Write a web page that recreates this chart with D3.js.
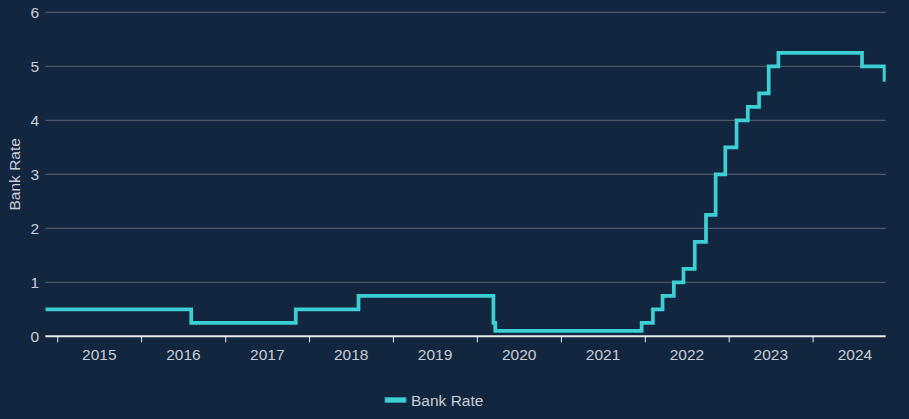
<!DOCTYPE html>
<html>
<head>
<meta charset="utf-8">
<script src="https://cdn.jsdelivr.net/npm/d3@7"></script>
<style>
html,body{margin:0;padding:0;background:#13263f;}
svg{display:block;font-family:"Liberation Sans",Arial,sans-serif;}
</style>
</head>
<body>
<svg id="chart" width="909" height="419"></svg>
<script>
// Bank Rate change dates and values
const changeDates = ["2014-11-08","2016-08-04","2017-11-02","2018-08-02","2020-03-11","2020-03-19","2021-12-16","2022-02-03","2022-03-17","2022-05-05","2022-06-16","2022-08-04","2022-09-22","2022-11-03","2022-12-15","2023-02-02","2023-03-23","2023-05-11","2023-06-22","2023-08-03","2024-08-01","2024-11-07","2024-11-12"];
const rates = [0.5,0.25,0.5,0.75,0.25,0.1,0.25,0.5,0.75,1.0,1.25,1.75,2.25,3.0,3.5,4.0,4.25,4.5,5.0,5.25,5.0,4.75,4.75];
const yTicks = [0,1,2,3,4,5,6];
const yearLabels = [2015,2016,2017,2018,2019,2020,2021,2022,2023,2024];
const seriesName = "Bank Rate";

const parse = d3.timeParse("%Y-%m-%d");
const data = changeDates.map((d,i)=>({date:parse(d), value:rates[i]}));

const svg = d3.select("#chart");
const W = 909, H = 419;
const m = {left:45.3, right:23.3, top:12.3, bottom:82.7};
const x = d3.scaleTime().domain([data[0].date, data[data.length-1].date]).range([m.left, W - m.right]);
const y = d3.scaleLinear().domain([0,6]).range([H - m.bottom, m.top]);

const textCol = "#c9ced6";

// gridlines
svg.append("g").selectAll("line").data(yTicks.filter(t=>t>0)).join("line")
  .attr("x1", m.left).attr("x2", W - m.right)
  .attr("y1", d=>y(d)).attr("y2", d=>y(d))
  .attr("stroke", "#5d6879").attr("stroke-width", 1);

// y tick labels
svg.append("g").selectAll("text").data(yTicks).join("text")
  .attr("x", 39).attr("y", d=>y(d)).attr("dy","0.36em")
  .attr("text-anchor","end").attr("fill", textCol).attr("font-size","15.5px")
  .text(d=>d);

// y title
svg.append("text")
  .attr("transform", `translate(20,${y(3)}) rotate(-90)`)
  .attr("text-anchor","middle").attr("fill", textCol).attr("font-size","15.5px")
  .text(seriesName);

// line
const clipId = "plotclip";
svg.append("clipPath").attr("id", clipId).append("rect")
  .attr("x", m.left).attr("y", 0).attr("width", W - m.right - m.left).attr("height", H);
const line = d3.line().x(d=>x(d.date)).y(d=>y(d.value)).curve(d3.curveStepAfter);
svg.append("path").datum(data)
  .attr("clip-path", `url(#${clipId})`)
  .attr("d", line).attr("fill","none")
  .attr("stroke", "#3ccfd3").attr("stroke-width", 3.7)
  .attr("stroke-linejoin","miter");

// x axis
const yearStarts = yearLabels.map(yr=>new Date(yr,0,1));
const axisY = y(0);
svg.append("line").attr("x1", m.left).attr("x2", W - m.right)
  .attr("y1", axisY).attr("y2", axisY)
  .attr("stroke", "#e8eaee").attr("stroke-width", 2);
svg.append("g").selectAll("line").data(yearStarts).join("line")
  .attr("x1", d=>x(d)).attr("x2", d=>x(d))
  .attr("y1", axisY).attr("y2", axisY + 6)
  .attr("stroke", "#e8eaee").attr("stroke-width", 1);
svg.append("g").selectAll("text").data(yearLabels).join("text")
  .attr("x", d=>x(new Date(d,6,1))).attr("y", axisY + 24)
  .attr("text-anchor","middle").attr("fill", textCol).attr("font-size","15.5px")
  .text(d=>d);

// legend
const lg = svg.append("g").attr("transform","translate(385,400)");
lg.append("rect").attr("x",0).attr("y",-2.5).attr("width",21).attr("height",5)
  .attr("fill","#3ccfd3").attr("stroke","#2a9ea3").attr("stroke-width",0.8);
lg.append("text").attr("x",26).attr("y",0).attr("dy","0.36em")
  .attr("fill", textCol).attr("font-size","15.5px").text(seriesName);
</script>
</body>
</html>
